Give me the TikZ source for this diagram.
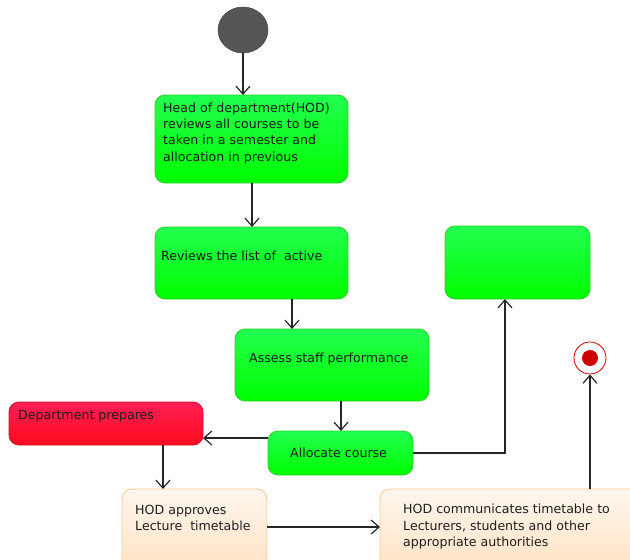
\documentclass[tikz,border=0pt]{standalone}
\usepackage{fontspec}
\setmainfont{DejaVu Sans}
\usetikzlibrary{arrows.meta,shapes.geometric}
\definecolor{gtop}{HTML}{22FF50}
\definecolor{gbot}{HTML}{00FF00}
\definecolor{gline}{HTML}{2BD12B}
\definecolor{rtop}{HTML}{FF2055}
\definecolor{rbot}{HTML}{FF0A1E}
\definecolor{rline}{HTML}{D0102A}
\definecolor{ptop}{HTML}{FFF6EE}
\definecolor{pbot}{HTML}{FFE0C0}
\definecolor{pline}{HTML}{FFC890}
\definecolor{startgray}{HTML}{555555}
\definecolor{endred}{HTML}{CC0000}
\definecolor{txt}{HTML}{1E1E1E}
\begin{document}
\begin{tikzpicture}[x=1pt,y=-1pt,
  box/.style={rectangle,rounded corners=10pt,inner sep=0pt,outer sep=0pt,anchor=north west,line width=0.8pt},
  greenbox/.style={box,draw=gline,top color=gtop,bottom color=gbot},
  redbox/.style={box,draw=rline,top color=rtop,bottom color=rbot},
  peachbox/.style={box,draw=pline,top color=ptop,bottom color=pbot},
  label/.style={anchor=north west,inner sep=0pt,align=left,text=txt,font=\fontsize{12.6}{16.3}\selectfont},
  arr/.style={draw=black!85,line width=1.2pt,-{Straight Barb[length=8pt,width=14pt,line width=1.2pt]}},
  plain/.style={draw=black!85,line width=1.2pt}]
\clip (0,0) rectangle (630,560);
\fill[white] (0,0) rectangle (630,560);

% start and end states
\node[ellipse,fill=startgray,draw=startgray!80!black,line width=0.5pt,minimum width=50pt,minimum height=46pt,inner sep=0pt] (start) at (243,30) {};
\node[circle,draw=endred,fill=white,line width=0.8pt,minimum size=32pt,inner sep=0pt] (end) at (590,358) {};
\fill[endred] (end.center) circle (8pt);

% activity boxes
\node[greenbox,minimum width=193pt,minimum height=88pt] (review) at (155,95) {};
\node[greenbox,minimum width=193pt,minimum height=72pt] (active) at (155,227) {};
\node[greenbox,minimum width=145pt,minimum height=73pt] (blank) at (445,226) {};
\node[greenbox,minimum width=194pt,minimum height=72pt] (assess) at (235,329) {};
\node[greenbox,minimum width=145pt,minimum height=44pt] (alloc) at (268,431) {};
\node[redbox,minimum width=194pt,minimum height=43pt] (dept) at (9,402) {};
\node[peachbox,minimum width=145pt,minimum height=90pt] (approve) at (122,489) {};
\node[peachbox,minimum width=260pt,minimum height=90pt] (notify) at (380,489) {};

% box texts
\node[label] (t1) at (163,102.5) {Head of department(HOD)\\reviews all courses to be\\taken in a semester and\\allocation in previous};
\node[label] (t2) at (161,251) {Reviews the list of\ \ active};
\node[label] (t3) at (249,353) {Assess staff performance};
\node[label] (t4) at (290,448) {Allocate course};
\node[label] (t5) at (18,410) {Department prepares};
\node[label] (t6) at (135,505) {HOD approves\\Lecture\ \ timetable};
\node[label] (t7) at (403,504) {HOD communicates timetable to\\Lecturers, students and other\\appropriate authorities};

% connectors
\draw[arr] (start.south) -- (start.south |- review.north);
\draw[arr] ([xshift=97pt]review.south west) -- ([xshift=97pt]active.north west);
\draw[arr] ([xshift=137pt]active.south west) -- ([xshift=57pt]assess.north west);
\draw[arr] ([xshift=106pt]assess.south west) -- ([xshift=73pt]alloc.north west);
\coordinate (aw) at ([yshift=-7pt]alloc.north west);
\draw[arr] (aw) -- (aw -| dept.east);
\coordinate (bb) at ([xshift=60pt]blank.south west);
\draw[arr] (alloc.east) -| (bb);
\draw[arr] ([xshift=154pt]dept.south west) -- ([xshift=41pt]approve.north west);
\coordinate (ae) at ([yshift=-38pt]approve.north east);
\draw[arr] (ae) -- (ae -| notify.west);
\draw[arr] (end |- notify.north) -- (end);
\end{tikzpicture}
\end{document}
